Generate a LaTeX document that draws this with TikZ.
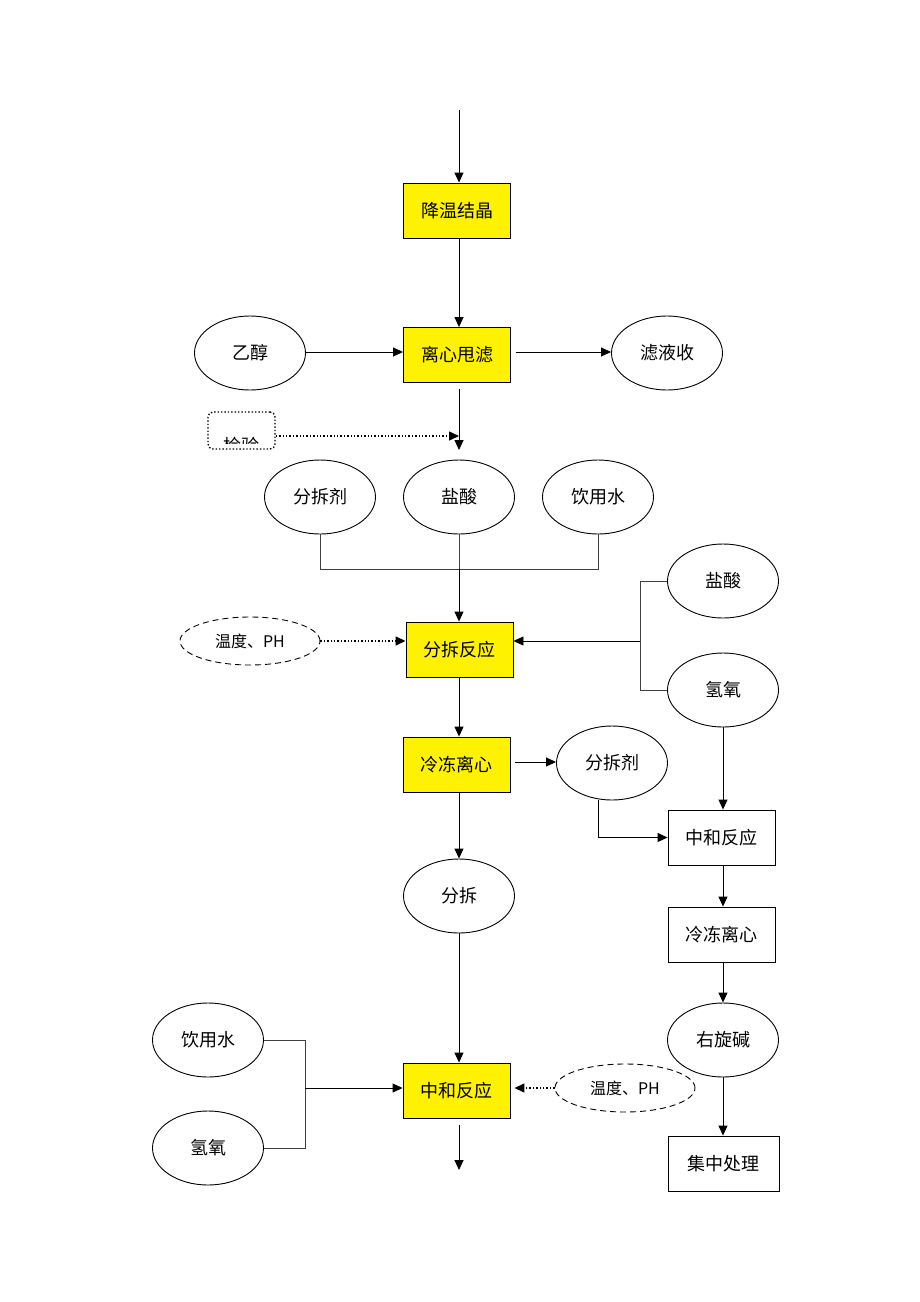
\documentclass[tikz,border=0pt]{standalone}
\usepackage{fontspec}
\setmainfont{Noto Sans CJK SC}
\usetikzlibrary{shapes.geometric,arrows.meta}
\begin{document}
\begin{tikzpicture}[x=1pt,y=-1pt,
 font=\fontsize{18}{21}\selectfont,
 line width=0.9pt,
 ybox/.style={draw, fill=yellow, minimum width=107pt, minimum height=55pt, inner sep=0pt},
 wbox/.style={draw, fill=white, minimum width=107pt, minimum height=55pt, inner sep=0pt},
 ell/.style={draw, ellipse, minimum width=111pt, minimum height=74pt, inner sep=0pt},
 dell/.style={draw, ellipse, dash pattern=on 6pt off 4pt, minimum width=140pt, minimum height=48pt, inner sep=0pt, font=\fontsize{16}{19}\selectfont},
 arr/.style={-{Triangle[length=10pt,width=9pt]}},
 dotarr/.style={arr, dotted, line width=1.4pt},
 thinline/.style={draw=black!75}
]
\useasboundingbox (0,0) rectangle (920,1302);

% main column
\coordinate (in) at (459,110);
\node[ybox] (jw) at (457,210.5) {降温结晶};
\node[ybox] (lx) at (457,355) {离心甩滤};
\node[ell] (yc) at (250,353) {乙醇};
\node[ell] (ly) at (667,353) {滤液收};
\draw[arr] (in) -- (in |- jw.north);
\draw[arr] ([xshift=2pt]jw.south) -- ([xshift=2pt]lx.north);
\draw[arr] (yc.east |- 0,352) -- (lx.west |- 0,352);
\draw[arr] ([xshift=5pt]lx.east |- 0,352) -- (ly.west |- 0,352);

\coordinate (j1) at (459,450);
\draw[arr] ([shift={(2,6)}]lx.south) -- (j1);

\node[draw, dotted, line width=1.4pt, rounded corners=5pt, minimum width=67pt, minimum height=37pt, inner sep=0pt] (chk) at (241.5,430.5) {};
\begin{scope}
\clip (212,415) rectangle (271,443);
\node (chkt) at (241.5,446) {检验};
\end{scope}
\draw[dotarr] (chk.east |- 0,436) -- (j1 |- 0,436);

% three inputs
\node[ell] (fcj1) at (320,497) {分拆剂};
\node[ell] (ys1) at (459,497) {盐酸};
\node[ell] (ysw1) at (598,497) {饮用水};
\node[ybox] (fcfy) at (459.5,649.5) {分拆反应};
\coordinate (m1) at (459,569);
\draw[thinline] (fcj1.south) -- (fcj1.south |- m1) -- (ysw1.south |- m1) -- (ysw1.south);
\draw[thinline] (ys1.south) -- (m1);
\draw[arr] (m1) -- (m1 |- fcfy.north);

\node[dell] (wd1) at (250,641) {温度、PH};
\draw[dotarr] (wd1.east) -- (wd1.east -| fcfy.west);

\node[ell] (ys2) at (723,581) {盐酸};
\node[ell] (qy1) at (723,690) {氢氧};
\coordinate (b1) at (640,641);
\draw[thinline] (ys2.west) -- (ys2.west -| b1) -- (qy1.west -| b1) -- (qy1.west);
\draw[arr] (b1) -- (b1 -| fcfy.east);

% freezing centrifuge
\node[ybox] (ld1) at (456.5,764.5) {冷冻离心};
\draw[arr] (m1 |- fcfy.south) -- (m1 |- ld1.north);
\node[ell] (fcj2) at (612,763) {分拆剂};
\draw[arr] ([xshift=5pt]ld1.east |- 0,762) -- (fcj2.west |- 0,762);

\node[wbox] (zh1) at (721.5,837.5) {中和反应};
\draw[arr] ([xshift=-14pt]fcj2.south) |- (zh1.west);
\draw[arr] (qy1.south) -- (qy1.south |- zh1.north);
\node[wbox] (ld2) at (721.5,934.5) {冷冻离心};
\draw[arr] (qy1.south |- zh1.south) -- (qy1.south |- ld2.north);
\node[ell] (yxj) at (723,1040) {右旋碱};
\draw[arr] (yxj.north |- ld2.south) -- (yxj.north);
\node[wbox, minimum width=111pt] (jz) at (723.5,1163.5) {集中处理};
\draw[arr] (yxj.south) -- (yxj.south |- jz.north);

% lower left chain
\node[ell] (fc) at (459,896) {分拆};
\draw[arr] (fc.north |- ld1.south) -- (fc.north);
\node[ybox] (zh2) at (456.5,1090.5) {中和反应};
\draw[arr] (fc.south) -- (fc.south |- zh2.north);

\node[ell] (ysw2) at (208,1040) {饮用水};
\node[ell] (qy2) at (208,1148) {氢氧};
\coordinate (b2) at (305,1088);
\draw[thinline] (ysw2.east) -- (ysw2.east -| b2) -- (qy2.east -| b2) -- (qy2.east);
\draw[arr] (b2) -- (b2 -| zh2.west);

\node[dell] (wd2) at (625,1088) {温度、PH};
\draw[dotarr] (wd2.west) -- ([xshift=4pt]wd2.west -| zh2.east);

\coordinate (out) at (459,1170);
\draw[arr] (out |- 0,1125) -- (out);
\end{tikzpicture}
\end{document}
